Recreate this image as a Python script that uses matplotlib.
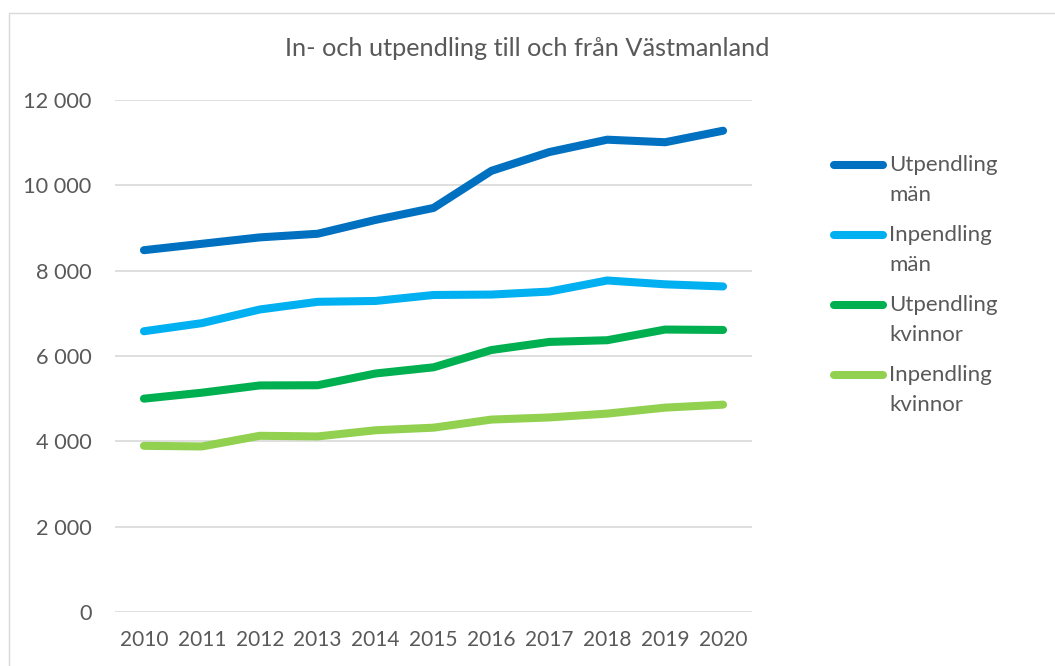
import matplotlib
matplotlib.use("Agg")
import matplotlib.pyplot as plt
from matplotlib.lines import Line2D
from matplotlib.patches import Rectangle
from matplotlib.ticker import FuncFormatter

years = ["2010", "2011", "2012", "2013", "2014", "2015", "2016", "2017", "2018", "2019", "2020"]
utpendling_man = [8480, 8630, 8780, 8865, 9190, 9470, 10340, 10780, 11070, 11010, 11280]
inpendling_man = [6580, 6770, 7090, 7270, 7290, 7430, 7440, 7510, 7770, 7680, 7630]
utpendling_kvinnor = [5000, 5140, 5310, 5315, 5590, 5735, 6140, 6330, 6370, 6620, 6610]
inpendling_kvinnor = [3895, 3880, 4130, 4115, 4260, 4320, 4510, 4560, 4650, 4790, 4860]

series_labels = ["Utpendling\nmän", "Inpendling\nmän", "Utpendling\nkvinnor", "Inpendling\nkvinnor"]
series_values = [utpendling_man, inpendling_man, utpendling_kvinnor, inpendling_kvinnor]
series_colors = ["#0070C0", "#00B0F0", "#00B050", "#92D050"]
yticks = [0, 2000, 4000, 6000, 8000, 10000, 12000]
title = "In- och utpendling till och från Västmanland"

plt.rcParams['font.family'] = ['Lato', 'DejaVu Sans']
text_color = "#595959"
grid_color = "#D9D9D9"

W, H = 1055, 666
fig = plt.figure(figsize=(W / 100, H / 100), dpi=100)

# chart border
fig.add_artist(Rectangle((9 / W, -0.1), 1.2, 1 - 13 / H + 0.1, transform=fig.transFigure,
                         fill=False, edgecolor=grid_color, linewidth=1.0))

ax = fig.add_axes([115 / W, 1 - 612 / H, (752 - 115) / W, (612 - 100) / H])
x = list(range(len(years)))
for vals, col in zip(series_values, series_colors):
    ax.plot(x, vals, color=col, linewidth=5.8, solid_capstyle='round', solid_joinstyle='round', zorder=3)

ax.set_xlim(-0.5, len(years) - 0.5)
ax.set_ylim(0, 12000)
ax.set_yticks(yticks)
ax.yaxis.set_major_formatter(FuncFormatter(lambda v, p: f"{int(v):,}".replace(",", " ")))
ax.set_xticks(x)
ax.set_xticklabels(years)
ax.grid(axis='y', color=grid_color, linewidth=1.2, zorder=0)
ax.set_axisbelow(True)
for s in ax.spines.values():
    s.set_visible(False)
ax.tick_params(axis='both', length=0, colors=text_color)
ax.tick_params(axis='y', pad=17, labelsize=15.7)
ax.tick_params(axis='x', pad=13, labelsize=15)

fig.text(0.5, 1 - 49 / H, title, ha='center', va='center', fontsize=18.2, color=text_color)

# legend
for i, (lab, col) in enumerate(zip(series_labels, series_colors)):
    y = 1 - (165 + 70 * i) / H
    fig.add_artist(Line2D([834 / W, 883 / W], [y, y], transform=fig.transFigure, color=col,
                          linewidth=5.8, solid_capstyle='round'))
    first, second = lab.split("\n")
    fig.text(889 / W, y, first, ha='left', va='center', fontsize=16, color=text_color)
    fig.text(889 / W, y - 30 / H, second, ha='left', va='center', fontsize=16, color=text_color)

fig.savefig("out.png", dpi=100)
